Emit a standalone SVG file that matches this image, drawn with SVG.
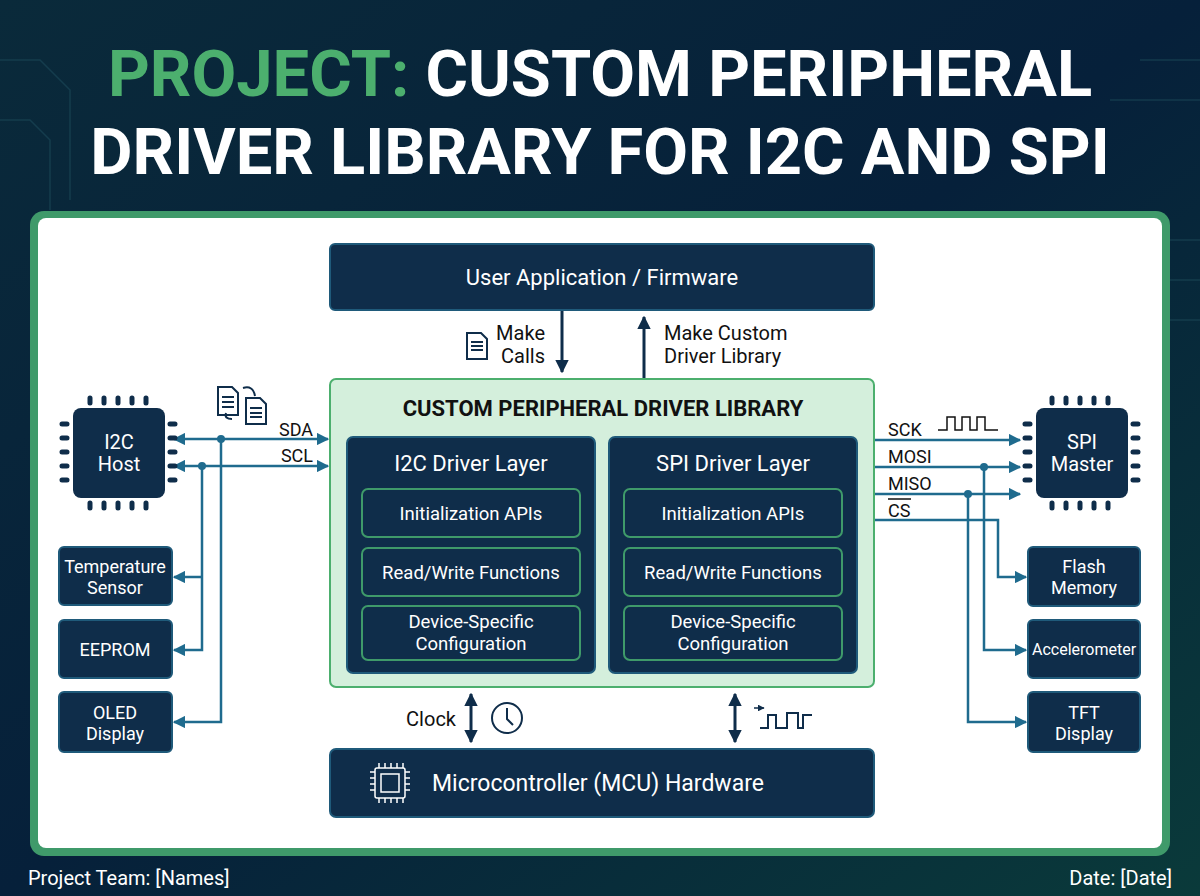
<svg xmlns="http://www.w3.org/2000/svg" width="1200" height="896" viewBox="0 0 1200 896">
<defs>
<linearGradient id="bg" x1="0" y1="0" x2="1" y2="1">
<stop offset="0" stop-color="#0a2a3a"/><stop offset="0.5" stop-color="#06203a"/><stop offset="1" stop-color="#0a3a3a"/>
</linearGradient>
<marker id="ar" viewBox="0 0 10 10" refX="9" refY="5" markerWidth="5" markerHeight="5" orient="auto-start-reverse"><path d="M0,0L10,5L0,10z" fill="#1f6b8e"/></marker>
<marker id="ad" viewBox="0 0 10 10" refX="9" refY="5" markerWidth="4.5" markerHeight="4.5" orient="auto-start-reverse"><path d="M0,0L10,5L0,10z" fill="#0f2d4a"/></marker>
<style>
.dk{fill:#0f2d4a;stroke:#1f5a7a;stroke-width:2}
.in{fill:#0f2d4a;stroke:#3f9a6a;stroke-width:2}
.w{fill:#fff;font-family:Roboto,"Liberation Sans",sans-serif;text-anchor:middle}
.b{fill:#111;font-family:Roboto,"Liberation Sans",sans-serif}
.bus{stroke:#1f6b8e;stroke-width:2.5;fill:none}
.dv{stroke:#0f2d4a;stroke-width:3;fill:none}
.pin{stroke:#0f2d4a;stroke-width:5;stroke-linecap:round}
.ic{fill:none;stroke:#0f2d4a;stroke-width:2}
</style>
</defs>
<rect width="1200" height="896" fill="url(#bg)"/>
<g stroke="#1c4a5a" stroke-width="1.5" fill="none" opacity="0.6">
<path d="M0,60H40L70,90V200"/><path d="M0,120H30L50,140V210"/><path d="M1200,240H1100L1080,260V300"/><path d="M1200,280H1130"/><path d="M1200,320H1110"/><path d="M1140,60H1200"/><path d="M1110,100H1200"/>
</g>
<text x="600" y="96" font-family="Roboto,'Liberation Sans',sans-serif" font-weight="bold" font-size="65" text-anchor="middle" fill="#fff"><tspan fill="#4caf6e">PROJECT:</tspan> CUSTOM PERIPHERAL</text>
<text x="600" y="174" font-family="Roboto,'Liberation Sans',sans-serif" font-weight="bold" font-size="65" text-anchor="middle" fill="#fff">DRIVER LIBRARY FOR I2C AND SPI</text>
<rect x="30" y="211" width="1140" height="645" rx="14" fill="#3f9a6a"/>
<rect x="38" y="218" width="1124" height="630" rx="8" fill="#fff"/>
<text x="28" y="885" font-family="Roboto,'Liberation Sans',sans-serif" font-size="20" fill="#fff">Project Team: [Names]</text>
<text x="1172" y="885" font-family="Roboto,'Liberation Sans',sans-serif" font-size="20" fill="#fff" text-anchor="end">Date: [Date]</text>

<g id="connectors">
<path class="dv" d="M562,310V372" marker-end="url(#ad)"/>
<path class="dv" d="M644,379V317" marker-end="url(#ad)"/>
<path class="dv" d="M471,694V742" marker-start="url(#ad)" marker-end="url(#ad)"/>
<path class="dv" d="M735,694V742" marker-start="url(#ad)" marker-end="url(#ad)"/>
<path class="bus" d="M174,439H328" marker-start="url(#ar)" marker-end="url(#ar)"/>
<path class="bus" d="M174,466H328" marker-start="url(#ar)" marker-end="url(#ar)"/>
<path class="bus" d="M221,439V722H174" marker-end="url(#ar)"/>
<path class="bus" d="M202,466V650H174" marker-end="url(#ar)"/>
<path class="bus" d="M202,577H174" marker-end="url(#ar)"/>
<circle cx="221" cy="439" r="4" fill="#1f6b8e"/><circle cx="202" cy="466" r="4" fill="#1f6b8e"/>
<path class="bus" d="M874,440H1020" marker-end="url(#ar)"/>
<path class="bus" d="M874,467H1020" marker-end="url(#ar)"/>
<path class="bus" d="M874,494H1020" marker-end="url(#ar)"/>
<path class="bus" d="M874,520H998V577H1026" marker-end="url(#ar)"/>
<path class="bus" d="M984,467V650H1026" marker-end="url(#ar)"/>
<path class="bus" d="M968,494V722H1026" marker-end="url(#ar)"/>
<circle cx="984" cy="467" r="4" fill="#1f6b8e"/><circle cx="968" cy="494" r="4" fill="#1f6b8e"/>
<g class="b" font-size="18">
<text x="313" y="436" text-anchor="end">SDA</text><text x="313" y="462" text-anchor="end">SCL</text>
<text x="888" y="436">SCK</text><text x="888" y="463">MOSI</text><text x="888" y="490">MISO</text><text x="888" y="517">CS</text>
</g>
<path d="M888,499H911" stroke="#111" stroke-width="1.5"/>
<path d="M938,430H947V417H955V430H962V417H970V430H977V417H985V430H998" fill="none" stroke="#111" stroke-width="1.5"/>
<text class="b" x="545" y="340" font-size="20" text-anchor="end">Make</text>
<text class="b" x="545" y="363" font-size="20" text-anchor="end">Calls</text>
<text class="b" x="664" y="340" font-size="20">Make Custom</text>
<text class="b" x="664" y="363" font-size="20">Driver Library</text>
<text class="b" x="456" y="726" font-size="20" text-anchor="end">Clock</text>
<circle cx="507" cy="718" r="15" class="ic"/><path d="M507,708V719L513,725" class="ic"/>
<path d="M760,728H768V715H776V728H787V713H798V728H803V715H812" class="ic" stroke-width="1.5"/>
<path d="M754,708H764" stroke="#0f2d4a" stroke-width="1.5" marker-end="url(#ad)"/>
<path d="M467,333h14l6,6v20h-20z M471,342h12M471,346h12M471,350h12" class="ic" stroke-width="1.8"/>
<path d="M218,387h14l6,6v22h-20z M222,397h12M222,402h12M222,407h12" class="ic" stroke-width="1.8"/>
<path d="M246,398h14l6,6v20h-20z M250,408h12M250,413h12M250,417h12" class="ic" stroke-width="1.8"/>
<path d="M243,388q10,-3 12,8 M232,419q-8,0 -6,-6" class="ic" stroke-width="1.5"/>
</g>

<g id="user-app"><rect x="330" y="244" width="544" height="66" rx="5" class="dk"/><text class="w" x="602" y="285" font-size="22">User Application / Firmware</text></g>

<g id="library">
<rect x="330" y="379" width="544" height="308" rx="6" fill="#d4efdc" stroke="#4caf6e" stroke-width="2"/>
<text x="603" y="416" font-family="Roboto,'Liberation Sans',sans-serif" font-weight="bold" font-size="22" text-anchor="middle" fill="#111">CUSTOM PERIPHERAL DRIVER LIBRARY</text>
</g>
<g id="i2c-layer">
<rect x="347" y="437" width="248" height="236" rx="6" class="dk"/>
<text class="w" x="471" y="471" font-size="22">I2C Driver Layer</text>
<rect x="362" y="489" width="218" height="48" rx="6" class="in"/><text class="w" x="471" y="520" font-size="18.5">Initialization APIs</text>
<rect x="362" y="548" width="218" height="48" rx="6" class="in"/><text class="w" x="471" y="579" font-size="18.5">Read/Write Functions</text>
<rect x="362" y="606" width="218" height="54" rx="6" class="in"/><text class="w" x="471" y="628" font-size="18.5">Device-Specific</text><text class="w" x="471" y="650" font-size="18.5">Configuration</text>
</g>
<g id="spi-layer">
<rect x="609" y="437" width="248" height="236" rx="6" class="dk"/>
<text class="w" x="733" y="471" font-size="22">SPI Driver Layer</text>
<rect x="624" y="489" width="218" height="48" rx="6" class="in"/><text class="w" x="733" y="520" font-size="18.5">Initialization APIs</text>
<rect x="624" y="548" width="218" height="48" rx="6" class="in"/><text class="w" x="733" y="579" font-size="18.5">Read/Write Functions</text>
<rect x="624" y="606" width="218" height="54" rx="6" class="in"/><text class="w" x="733" y="628" font-size="18.5">Device-Specific</text><text class="w" x="733" y="650" font-size="18.5">Configuration</text>
</g>
<g id="mcu">
<rect x="330" y="749" width="544" height="68" rx="6" class="dk"/>
<g stroke="#fff" stroke-width="1.5" fill="none"><rect x="375" y="768" width="30" height="30" rx="2"/><rect x="381" y="774" width="18" height="18"/>
<path d="M379,768v-5M385,768v-5M391,768v-5M397,768v-5M403,768v-5M379,798v5M385,798v5M391,798v5M397,798v5M403,798v5M375,772h-5M375,778h-5M375,784h-5M375,790h-5M405,772h5M405,778h5M405,784h5M405,790h5"/></g>
<text x="432" y="791" font-family="Roboto,'Liberation Sans',sans-serif" font-size="23" fill="#fff">Microcontroller (MCU) Hardware</text>
</g>
<g id="i2c-host">
<g class="pin"><path d="M90,398v5M104,398v5M118,398v5M132,398v5M146,398v5M90,503v5M104,503v5M118,503v5M132,503v5M146,503v5M62,424h5M62,438h5M62,452h5M62,466h5M62,480h5M170,424h5M170,438h5M170,452h5M170,466h5M170,480h5"/></g>
<rect x="73" y="408" width="92" height="90" rx="8" fill="#0f2d4a"/>
<text class="w" x="119" y="449" font-size="20">I2C</text><text class="w" x="119" y="471" font-size="20">Host</text>
</g>
<g id="spi-master">
<g class="pin"><path d="M1052,398v5M1066,398v5M1080,398v5M1094,398v5M1108,398v5M1052,503v5M1066,503v5M1080,503v5M1094,503v5M1108,503v5M1025,424h5M1025,438h5M1025,452h5M1025,466h5M1025,480h5M1133,424h5M1133,438h5M1133,452h5M1133,466h5M1133,480h5"/></g>
<rect x="1036" y="408" width="92" height="90" rx="8" fill="#0f2d4a"/>
<text class="w" x="1082" y="449" font-size="20">SPI</text><text class="w" x="1082" y="471" font-size="20">Master</text>
</g>
<g id="temp"><rect x="59" y="547" width="113" height="58" rx="5" class="dk"/><text class="w" x="115" y="573" font-size="18">Temperature</text><text class="w" x="115" y="594" font-size="18">Sensor</text></g>
<g id="eeprom"><rect x="59" y="620" width="113" height="58" rx="5" class="dk"/><text class="w" x="115" y="656" font-size="18">EEPROM</text></g>
<g id="oled"><rect x="59" y="692" width="113" height="60" rx="5" class="dk"/><text class="w" x="115" y="719" font-size="18">OLED</text><text class="w" x="115" y="740" font-size="18">Display</text></g>
<g id="flash"><rect x="1028" y="547" width="112" height="59" rx="5" class="dk"/><text class="w" x="1084" y="573" font-size="18">Flash</text><text class="w" x="1084" y="594" font-size="18">Memory</text></g>
<g id="accel"><rect x="1028" y="620" width="112" height="58" rx="5" class="dk"/><text class="w" x="1084" y="655" font-size="16">Accelerometer</text></g>
<g id="tft"><rect x="1028" y="692" width="112" height="60" rx="5" class="dk"/><text class="w" x="1084" y="719" font-size="18">TFT</text><text class="w" x="1084" y="740" font-size="18">Display</text></g>
</svg>
